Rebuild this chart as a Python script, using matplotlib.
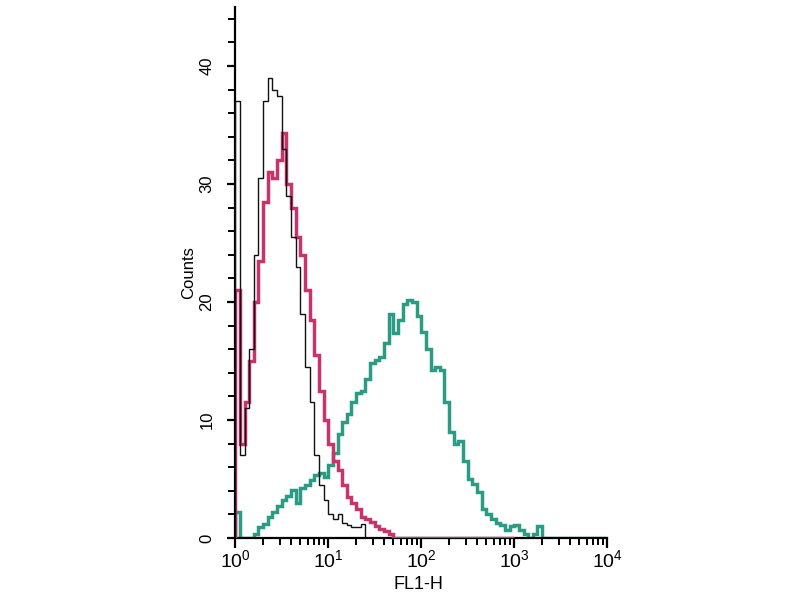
import numpy as np
import matplotlib as mpl
mpl.use("Agg")
import matplotlib.pyplot as plt
from matplotlib.ticker import LogLocator, MultipleLocator, NullFormatter

plt.rcParams.update({
    "font.family": ["Liberation Sans", "DejaVu Sans"],
    "mathtext.fontset": "custom",
    "mathtext.rm": "Liberation Sans",
    "mathtext.it": "Liberation Sans",
    "mathtext.bf": "Liberation Sans",
})

BINS_PER_DECADE = 20

# counts per log-spaced bin, starting at 10^0 (20 bins per decade)
isotype = [37.0, 7.0, 11.0, 16.0, 24.0, 30.5, 37.0, 39.0, 38.0, 37.5,
           33.0, 29.0, 25.5, 23.0, 19.0, 14.5, 11.5, 7.0, 4.5, 3.2,
           2.0, 1.6, 2.0, 1.3, 1.1, 0.9, 0.9, 1.2, 0.0, 0.0]

control = [21.0, 8.0, 11.5, 15.0, 20.0, 23.5, 28.5, 31.0, 30.5, 32.0,
           34.3, 30.0, 28.0, 25.5, 24.0, 21.0, 18.5, 15.5, 12.5, 10.0,
           8.0, 6.5, 5.8, 4.5, 3.5, 3.0, 2.5, 1.8, 1.6, 1.4,
           1.0, 0.8, 0.6, 0.3, 0.0, 0.0, 0.0, 0.0, 0.0, 0.0,
           0.0, 0.0, 0.0, 0.0, 0.0, 0.0, 0.0, 0.0, 0.0, 0.0,
           0.0, 0.0, 0.0, 0.0, 0.0, 0.0, 0.0, 0.0, 0.0, 0.0]

stained = [2.2, 0.0, 0.0, 0.0, 0.3, 0.9, 1.2, 1.8, 2.2, 2.7,
           3.2, 3.6, 4.1, 3.0, 4.2, 4.5, 4.9, 5.3, 5.5, 5.2,
           6.2, 7.2, 8.8, 9.8, 10.5, 11.5, 12.3, 12.5, 13.5, 14.8,
           15.1, 15.3, 16.5, 19.0, 17.4, 18.5, 19.8, 20.2, 20.0, 18.8,
           17.5, 16.0, 14.2, 14.5, 14.2, 11.5, 9.0, 8.0, 8.2, 6.5,
           5.0, 4.6, 3.9, 2.5, 2.0, 1.6, 1.3, 1.1, 0.7, 1.0,
           1.1, 0.7, 0.3, 0.0, 0.3, 1.0, 0.0, 0.0, 0.0, 0.0,
           0.0, 0.0, 0.0, 0.0, 0.0, 0.0, 0.0, 0.0, 0.0, 0.0]

x_ticks = [1, 10, 100, 1000, 10000]
x_ticklabels = ["$10^0$", "$10^1$", "$10^2$", "$10^3$", "$10^4$"]
y_ticks = [0, 10, 20, 30, 40]

C_TEAL, C_MAG, C_BLK = "#2b9b83", "#c8336b", "#111111"


def edges_for(vals):
    n = len(vals)
    return np.logspace(0, n / BINS_PER_DECADE, n + 1)


fig = plt.figure(figsize=(8, 6), dpi=100)
ax = fig.add_axes([0.294, 0.1033, 0.465, 0.885])

ax.stairs(stained, edges_for(stained), color=C_TEAL, lw=2.5, zorder=2)
ax.stairs(control, edges_for(control), color=C_MAG, lw=2.5, zorder=3)
ax.stairs(isotype, edges_for(isotype), color=C_BLK, lw=1.0, zorder=4)

ax.set_xscale("log")
ax.set_xlim(1, 10000)
ax.set_ylim(0, 45)

ax.spines["top"].set_visible(False)
ax.spines["right"].set_visible(False)
for s in ("left", "bottom"):
    ax.spines[s].set_linewidth(1.6)

ax.set_xticks(x_ticks)
ax.set_xticklabels(x_ticklabels, fontsize=14)
ax.xaxis.set_minor_locator(LogLocator(base=10, subs=np.arange(2, 10)))
ax.xaxis.set_minor_formatter(NullFormatter())
ax.tick_params(axis="x", which="major", length=7, width=1.6, pad=1)
ax.tick_params(axis="x", which="minor", length=5, width=1.4)

ax.set_yticks(y_ticks)
ax.set_yticklabels([str(v) for v in y_ticks], fontsize=12,
                   rotation=90, va="center")
ax.yaxis.set_minor_locator(MultipleLocator(2))
ax.tick_params(axis="y", which="major", length=6, width=1.6, pad=9)
ax.tick_params(axis="y", which="minor", length=5, width=1.4)

ax.set_xlabel("FL1-H", fontsize=13, va="center")
ax.xaxis.set_label_coords(0.492, -0.088)
ax.set_ylabel("Counts", fontsize=12, labelpad=2)

fig.savefig("out.png", dpi=100)
